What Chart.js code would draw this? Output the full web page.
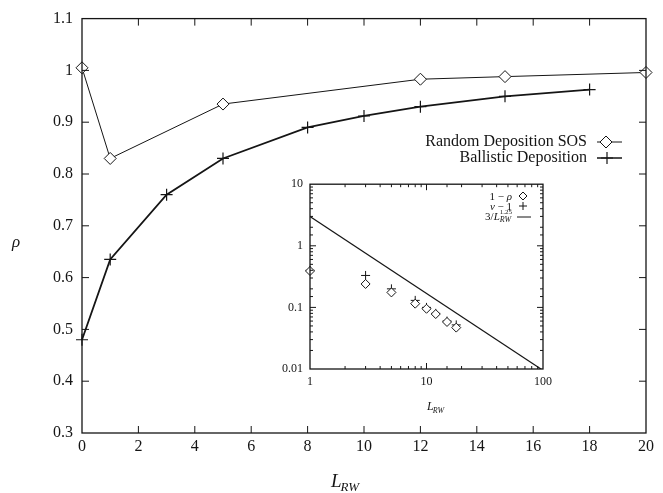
<!DOCTYPE html>
<html>
<head>
<meta charset="utf-8">
<script src="https://cdn.jsdelivr.net/npm/chart.js@4/dist/chart.umd.min.js"></script>
<style>
body { margin: 0; background: #fff; }
#wrap { position: relative; width: 663px; height: 493px; }
#main { position: absolute; left: 0; top: 0; }
#inset { position: absolute; left: 250px; top: 170px; }
</style>
</head>
<body>
<div id="wrap">
  <canvas id="main" width="663" height="493"></canvas>
  <canvas id="inset" width="310" height="250"></canvas>
</div>
<script>
// main plot: rho vs L_RW
var rdL = [0, 1, 5, 12, 15, 20];
var rdRho = [1.005, 0.83, 0.935, 0.983, 0.988, 0.996];
var bdL = [0, 1, 3, 5, 8, 10, 12, 15, 18];
var bdRho = [0.48, 0.635, 0.76, 0.83, 0.89, 0.912, 0.93, 0.95, 0.963];
var legendNames = ['Random Deposition SOS', 'Ballistic Deposition'];

// inset: log-log
var insetL = [1, 3, 5, 8, 10, 12, 15, 18];
var oneMinusRho = [0.39, 0.24, 0.175, 0.115, 0.095, 0.078, 0.058, 0.047];
var vMinusOne = [0.4, 0.33, 0.2, 0.13, 0.1, 0.08, 0.06, 0.052];
var fitL = [1, 100];
var fitVal = [3, 0.0095];

var ink = '#151515';
var serif = '"Liberation Serif", "DejaVu Serif", serif';

function pts(xs, ys) {
  return xs.map(function (x, i) { return { x: x, y: ys[i] }; });
}

function isDecade(v) {
  var l = Math.log10(v);
  return Math.abs(l - Math.round(l)) < 1e-6;
}

function diamond(ctx, x, y, r) {
  ctx.save();
  ctx.beginPath();
  ctx.moveTo(x, y - r); ctx.lineTo(x + r, y); ctx.lineTo(x, y + r); ctx.lineTo(x - r, y);
  ctx.closePath();
  ctx.fillStyle = '#fff'; ctx.fill(); ctx.stroke();
  ctx.restore();
}
function cross(ctx, x, y, r) {
  ctx.beginPath();
  ctx.moveTo(x - r, y); ctx.lineTo(x + r, y);
  ctx.moveTo(x, y - r); ctx.lineTo(x, y + r);
  ctx.stroke();
}

// box round the plot area with inward ticks on all four sides
var frameTicks = {
  id: 'frameTicks',
  afterDatasetsDraw: function (chart, args, opts) {
    var ctx = chart.ctx, a = chart.chartArea;
    var xs = chart.scales.x, ys = chart.scales.y;
    ctx.save();
    ctx.strokeStyle = ink;
    ctx.lineWidth = 1.3;
    ctx.strokeRect(a.left, a.top, a.right - a.left, a.bottom - a.top);
    ctx.lineWidth = 1;
    ctx.beginPath();
    xs.ticks.forEach(function (t) {
      var px = xs.getPixelForValue(t.value);
      if (px <= a.left + 1 || px >= a.right - 1) return;
      var len = opts.log && !isDecade(t.value) ? opts.minor : opts.major;
      ctx.moveTo(px, a.bottom); ctx.lineTo(px, a.bottom - len);
      ctx.moveTo(px, a.top); ctx.lineTo(px, a.top + len);
    });
    ys.ticks.forEach(function (t) {
      var py = ys.getPixelForValue(t.value);
      if (py <= a.top + 1 || py >= a.bottom - 1) return;
      var len = opts.log && !isDecade(t.value) ? opts.minor : opts.major;
      ctx.moveTo(a.left, py); ctx.lineTo(a.left + len, py);
      ctx.moveTo(a.right, py); ctx.lineTo(a.right - len, py);
    });
    ctx.stroke();
    ctx.restore();
  }
};

var mainText = {
  id: 'mainText',
  afterDraw: function (chart) {
    var ctx = chart.ctx;
    ctx.save();
    ctx.fillStyle = ink;
    ctx.strokeStyle = ink;
    // legend
    ctx.font = '16px ' + serif;
    ctx.textAlign = 'right';
    ctx.textBaseline = 'middle';
    ctx.fillText(legendNames[0], 587, 142);
    ctx.fillText(legendNames[1], 587, 158);
    ctx.lineWidth = 1;
    ctx.beginPath(); ctx.moveTo(597, 142); ctx.lineTo(622, 142); ctx.stroke();
    diamond(ctx, 606, 142, 6);
    ctx.lineWidth = 1.5;
    ctx.beginPath(); ctx.moveTo(597, 158); ctx.lineTo(622, 158); ctx.stroke();
    ctx.lineWidth = 1.2;
    cross(ctx, 607, 158, 6);
    // axis titles
    ctx.textAlign = 'left';
    ctx.textBaseline = 'alphabetic';
    ctx.font = 'italic 17px ' + serif;
    ctx.fillText('\u03c1', 12, 247);
    ctx.font = 'italic 19px ' + serif;
    ctx.fillText('L', 331, 487);
    var wL = ctx.measureText('L').width;
    ctx.font = 'italic 13px ' + serif;
    ctx.fillText('RW', 331 + wL - 1, 491);
    ctx.restore();
  }
};

var insetText = {
  id: 'insetText',
  afterDraw: function (chart) {
    var ctx = chart.ctx;
    ctx.save();
    ctx.fillStyle = ink;
    ctx.strokeStyle = ink;
    ctx.textBaseline = 'alphabetic';
    ctx.textAlign = 'left';
    var right = 262;

    // row 1: 1 - rho
    ctx.font = 'italic 11px ' + serif;
    var wr = ctx.measureText('\u03c1').width;
    ctx.font = '11px ' + serif;
    var a1 = '1 \u2212 ';
    var w1 = ctx.measureText(a1).width;
    ctx.fillText(a1, right - wr - w1, 30);
    ctx.font = 'italic 11px ' + serif;
    ctx.fillText('\u03c1', right - wr, 30);
    ctx.lineWidth = 1;
    diamond(ctx, 273, 26, 4);

    // row 2: v - 1
    ctx.font = '11px ' + serif;
    var b2 = ' \u2212 1';
    var w2 = ctx.measureText(b2).width;
    ctx.fillText(b2, right - w2, 40);
    ctx.font = 'italic 11px ' + serif;
    var wv = ctx.measureText('v').width;
    ctx.fillText('v', right - w2 - wv, 40);
    cross(ctx, 273, 36, 4);

    // row 3: 3/L_RW^1.25
    ctx.font = '7px ' + serif;
    var wsup = ctx.measureText('1.25').width;
    ctx.font = 'italic 8px ' + serif;
    var wsub = ctx.measureText('RW').width;
    var ws = Math.max(wsup, wsub);
    ctx.font = 'italic 11px ' + serif;
    var wLL = ctx.measureText('L').width;
    ctx.font = '11px ' + serif;
    var w3 = ctx.measureText('3/').width;
    var x0 = right - ws - wLL - w3;
    ctx.fillText('3/', x0, 50);
    ctx.font = 'italic 11px ' + serif;
    ctx.fillText('L', x0 + w3, 50);
    ctx.font = '7px ' + serif;
    ctx.fillText('1.25', x0 + w3 + wLL, 44);
    ctx.font = 'italic 8px ' + serif;
    ctx.fillText('RW', x0 + w3 + wLL, 52);
    ctx.beginPath(); ctx.moveTo(267, 47); ctx.lineTo(281, 47); ctx.stroke();

    // x title
    ctx.font = 'italic 12px ' + serif;
    ctx.fillText('L', 177, 240);
    var wl = ctx.measureText('L').width;
    ctx.font = 'italic 8px ' + serif;
    ctx.fillText('RW', 177 + wl - 1, 243);
    ctx.restore();
  }
};

new Chart(document.getElementById('main'), {
  type: 'scatter',
  data: {
    datasets: [{
      label: legendNames[0],
      data: pts(rdL, rdRho),
      showLine: true,
      borderColor: ink,
      borderWidth: 1,
      pointStyle: 'rectRot',
      pointRadius: 6,
      pointBorderWidth: 1,
      pointBackgroundColor: '#fff',
      pointBorderColor: ink,
      clip: false
    }, {
      label: legendNames[1],
      data: pts(bdL, bdRho),
      showLine: true,
      borderColor: ink,
      borderWidth: 1.8,
      pointStyle: 'cross',
      pointRadius: 6,
      pointBorderWidth: 1.2,
      pointBorderColor: ink,
      clip: false
    }]
  },
  options: {
    responsive: false,
    animation: false,
    events: [],
    layout: { padding: { top: 16, right: 17, left: 0, bottom: 0 } },
    plugins: {
      legend: { display: false },
      tooltip: { enabled: false },
      frameTicks: { major: 7, minor: 0, log: false }
    },
    scales: {
      x: {
        type: 'linear', min: 0, max: 20,
        grid: { display: false, drawTicks: false },
        border: { display: false },
        ticks: { stepSize: 2, padding: 4, color: ink, font: { family: serif, size: 16 }, maxRotation: 0 },
        afterFit: function (s) { s.height = 60; }
      },
      y: {
        type: 'linear', min: 0.3, max: 1.1,
        grid: { display: false, drawTicks: false },
        border: { display: false },
        ticks: {
          stepSize: 0.1, padding: 9, color: ink, font: { family: serif, size: 16 },
          callback: function (v) { return String(Math.round(v * 10) / 10); }
        },
        afterFit: function (s) { s.width = 82; }
      }
    }
  },
  plugins: [frameTicks, mainText]
});

new Chart(document.getElementById('inset'), {
  type: 'scatter',
  data: {
    datasets: [{
      label: '1 - rho',
      data: pts(insetL, oneMinusRho),
      pointStyle: 'rectRot',
      pointRadius: 4.5,
      pointBorderWidth: 1,
      pointBackgroundColor: '#fff',
      pointBorderColor: ink,
      clip: false
    }, {
      label: 'v - 1',
      data: pts(insetL, vMinusOne),
      pointStyle: 'cross',
      pointRadius: 4.5,
      pointBorderWidth: 1,
      pointBorderColor: ink,
      clip: false
    }, {
      label: '3/L^1.25',
      data: pts(fitL, fitVal),
      showLine: true,
      borderColor: ink,
      borderWidth: 1.2,
      pointRadius: 0
    }]
  },
  options: {
    responsive: false,
    animation: false,
    events: [],
    layout: { padding: { top: 10, right: 17, left: 0, bottom: 0 } },
    plugins: {
      legend: { display: false },
      tooltip: { enabled: false },
      frameTicks: { major: 6, minor: 3, log: true }
    },
    scales: {
      x: {
        type: 'logarithmic', min: 1, max: 100,
        grid: { display: false, drawTicks: false },
        border: { display: false },
        ticks: {
          autoSkip: false, maxRotation: 0, padding: 6, color: ink, font: { family: serif, size: 12 },
          callback: function (v) { return isDecade(v) ? String(v) : ''; }
        },
        afterFit: function (s) { s.height = 51; }
      },
      y: {
        type: 'logarithmic', min: 0.01, max: 10,
        grid: { display: false, drawTicks: false },
        border: { display: false },
        ticks: {
          autoSkip: false, padding: 7, color: ink, font: { family: serif, size: 12 },
          callback: function (v) { return isDecade(v) ? String(+v.toPrecision(1)) : ''; }
        },
        afterFit: function (s) { s.width = 60; }
      }
    }
  },
  plugins: [frameTicks, insetText]
});
</script>
</body>
</html>
